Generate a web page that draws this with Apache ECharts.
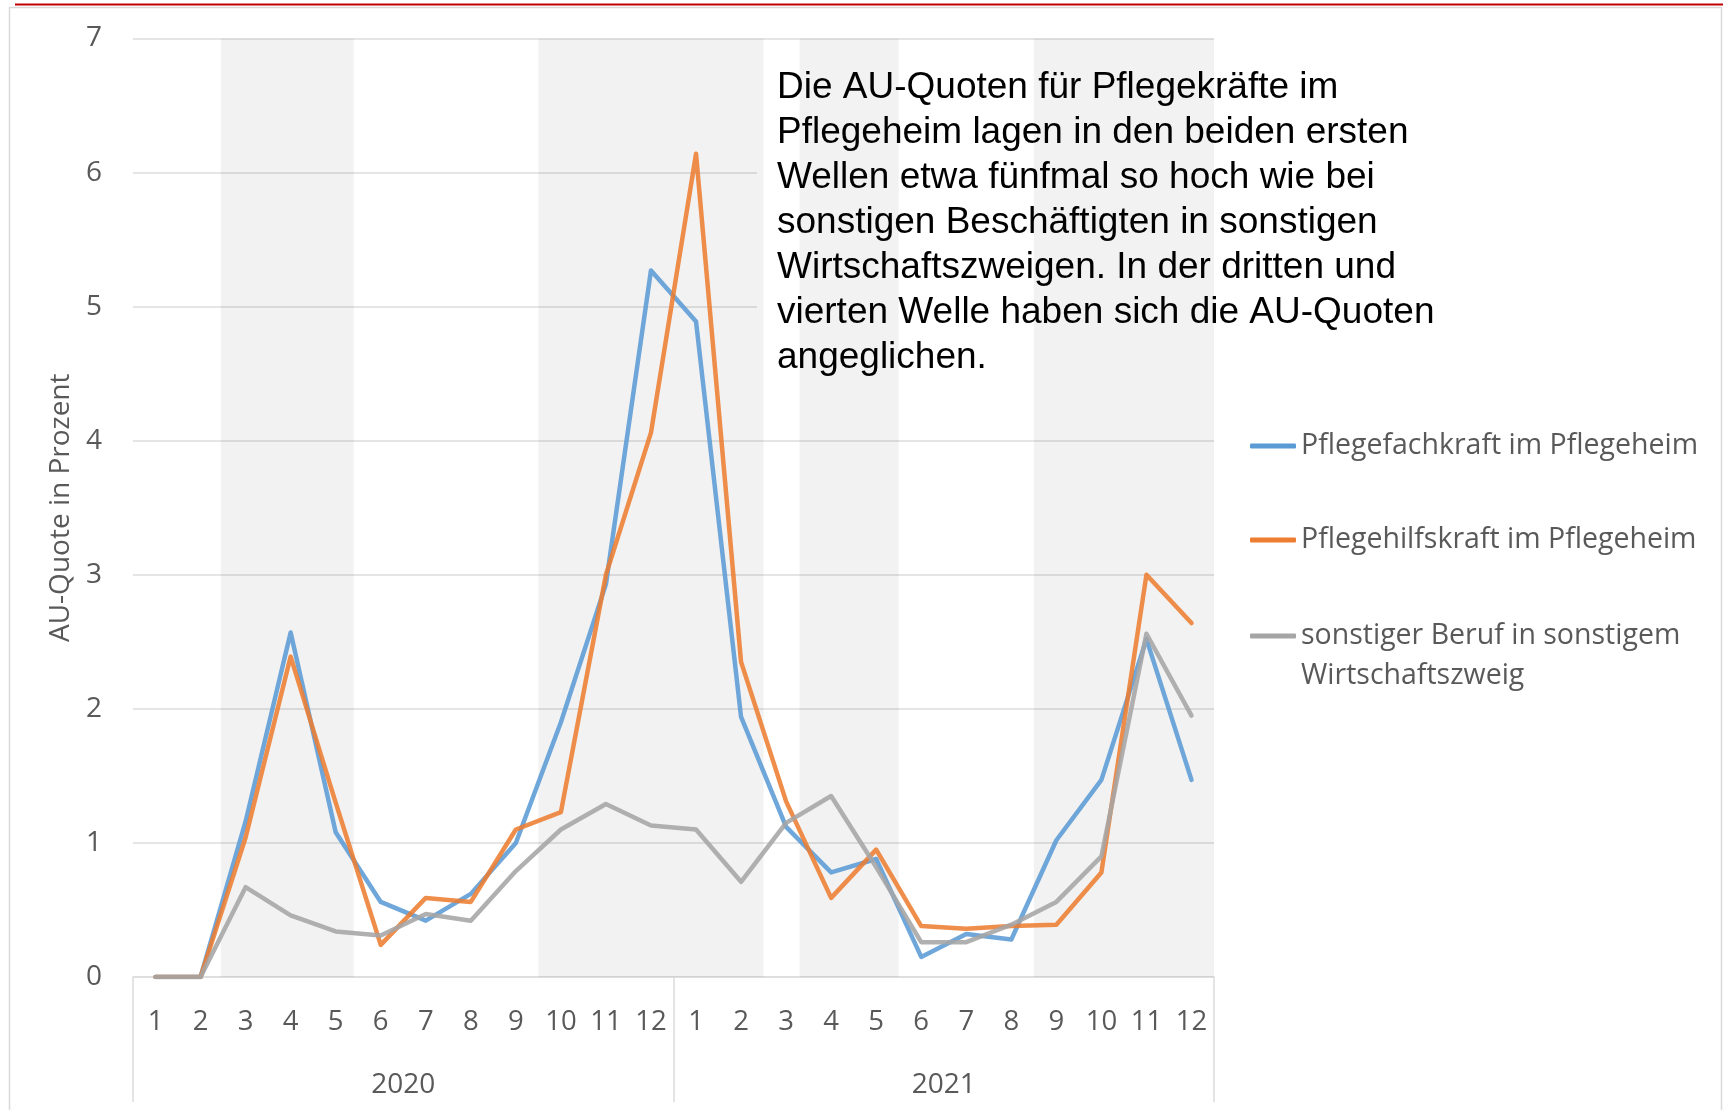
<!DOCTYPE html>
<html><head><meta charset="utf-8">
<script src="https://cdn.jsdelivr.net/npm/echarts@6/dist/echarts.min.js"></script>
<style>html,body{margin:0;padding:0;background:#fff}#c{width:1723px;height:1110px}</style>
</head><body><div id="c"></div>
<script>
// ---- data ----
const months = ['1','2','3','4','5','6','7','8','9','10','11','12','1','2','3','4','5','6','7','8','9','10','11','12'];
const years = ['2020','2021'];
const seriesNames = ['Pflegefachkraft im Pflegeheim','Pflegehilfskraft im Pflegeheim','sonstiger Beruf in sonstigem Wirtschaftszweig'];
const legendLabels = ['Pflegefachkraft im Pflegeheim','Pflegehilfskraft im Pflegeheim','sonstiger Beruf in sonstigem\nWirtschaftszweig'];
const pflegefachkraft = [0,0,1.16,2.57,1.08,0.56,0.42,0.62,1.00,1.90,2.93,5.27, 4.89,1.94,1.12,0.78,0.88,0.15,0.32,0.28,1.02,1.47,2.52,1.47];
const pflegehilfskraft = [0,0,1.04,2.39,1.30,0.24,0.59,0.56,1.10,1.23,3.00,4.06, 6.14,2.35,1.31,0.59,0.95,0.38,0.36,0.38,0.39,0.78,3.00,2.64];
const sonstige = [0,0,0.67,0.46,0.34,0.31,0.47,0.42,0.79,1.10,1.29,1.13, 1.10,0.71,1.15,1.35,0.82,0.26,0.26,0.39,0.56,0.90,2.56,1.95];
// wave periods in month-index units (0 = start of Jan 2020, 24 = end of Dec 2021)
const waves = [[1.95,4.9],[9,14],[14.8,17],[20,24]];
const noteLines = [
  'Die AU-Quoten für Pflegekräfte im',
  'Pflegeheim lagen in den beiden ersten',
  'Wellen etwa fünfmal so hoch wie bei',
  'sonstigen Beschäftigten in sonstigen',
  'Wirtschaftszweigen. In der dritten und',
  'vierten Welle haben sich die AU-Quoten',
  'angeglichen.'
];
const yAxisTitle = 'AU-Quote in Prozent';
const colors = ['#5B9BD5','#ED7D31','#A5A5A5'];

// ---- chart ----
const FONT = '"Open Sans", "Noto Sans", sans-serif';
const TXT = '#595959';
const GRIDC = '#dcdcdc';
const chart = echarts.init(document.getElementById('c'), null, {renderer:'canvas'});
const values = [pflegefachkraft, pflegehilfskraft, sonstige];
const legendTops = [426, 520, 576];

const option = {
  animation: false,
  backgroundColor: '#fff',
  grid: {left:133, right:509, top:38.5, bottom:133, containLabel:false, outerBoundsMode:'none'},
  xAxis: [
    {type:'category', data: months, boundaryGap:true, position:'bottom',
     axisLine:{show:true, lineStyle:{color:GRIDC, width:1.5}},
     axisTick:{show:false},
     axisLabel:{interval:0, margin:31, fontFamily:FONT, fontSize:27.5, color:TXT, hideOverlap:false},
     splitLine:{show:false}},
    {type:'category', data: years, boundaryGap:true, position:'bottom',
     axisLine:{show:false},
     axisTick:{show:true, interval:0, length:125, lineStyle:{color:GRIDC, width:1.5}},
     axisLabel:{interval:0, margin:94, fontFamily:FONT, fontSize:28, color:TXT},
     splitLine:{show:false}},
    {type:'value', min:0, max:24, show:false}
  ],
  yAxis: {type:'value', min:0, max:7, interval:1,
    name: yAxisTitle, nameLocation:'middle', nameRotate:90, nameGap:55,
    nameTextStyle:{fontFamily:FONT, fontSize:28, color:TXT},
    axisLine:{show:false}, axisTick:{show:false},
    axisLabel:{margin:31, fontFamily:FONT, fontSize:28, color:TXT},
    splitLine:{show:true, lineStyle:{color:GRIDC, width:1.5}}},
  legend: seriesNames.map((n,i)=>({
    data:[n], orient:'vertical', left:1250, top:legendTops[i], padding:0,
    itemWidth:46, itemHeight:5, icon:'roundRect', itemGap:0, selectedMode:false,
    formatter: (name)=>(i===2 ? ' \n' : '') + legendLabels[seriesNames.indexOf(name)],
    textStyle:{fontFamily:FONT, fontSize:28.5, color:TXT, lineHeight:40}
  })),
  series: [
    {type:'line', xAxisIndex:2, yAxisIndex:0, data:[], silent:true, symbol:'none',
     markArea:{silent:true, z:2, itemStyle:{color:'rgba(0,0,0,0.05)'},
       data: waves.map(w=>[{xAxis:w[0]},{xAxis:w[1]}])}}
  ].concat(values.map((v,i)=>({
    type:'line', name: seriesNames[i], data: v, xAxisIndex:0, yAxisIndex:0,
    symbol:'none', z:3+i, silent:true,
    itemStyle:{color:colors[i]},
    lineStyle:{color:colors[i], width:4.5, opacity:0.88, cap:'round', join:'round'}
  }))),
  graphic: [
    {type:'rect', z:1, silent:true, shape:{x:757, y:45, width:457, height:360}, style:{fill:'#fff'}},
    {type:'rect', z:0, silent:true, shape:{x:9.5, y:7.5, width:1712, height:1112}, style:{fill:'none', stroke:'#d9d9d9', lineWidth:1.5}},
    {type:'line', z:10, silent:true, shape:{x1:15, y1:4.5, x2:1723, y2:4.5}, style:{stroke:'#c00000', lineWidth:2}},
    {type:'text', z:10, silent:true, x:777, y:65,
     style:{text: noteLines.join('\n'), fontFamily:'"Liberation Sans", Arial, sans-serif', fontSize:37, lineHeight:45, fill:'#000', verticalAlign:'top', align:'left'}}
  ]
};
chart.setOption(option);
</script>
</body></html>
